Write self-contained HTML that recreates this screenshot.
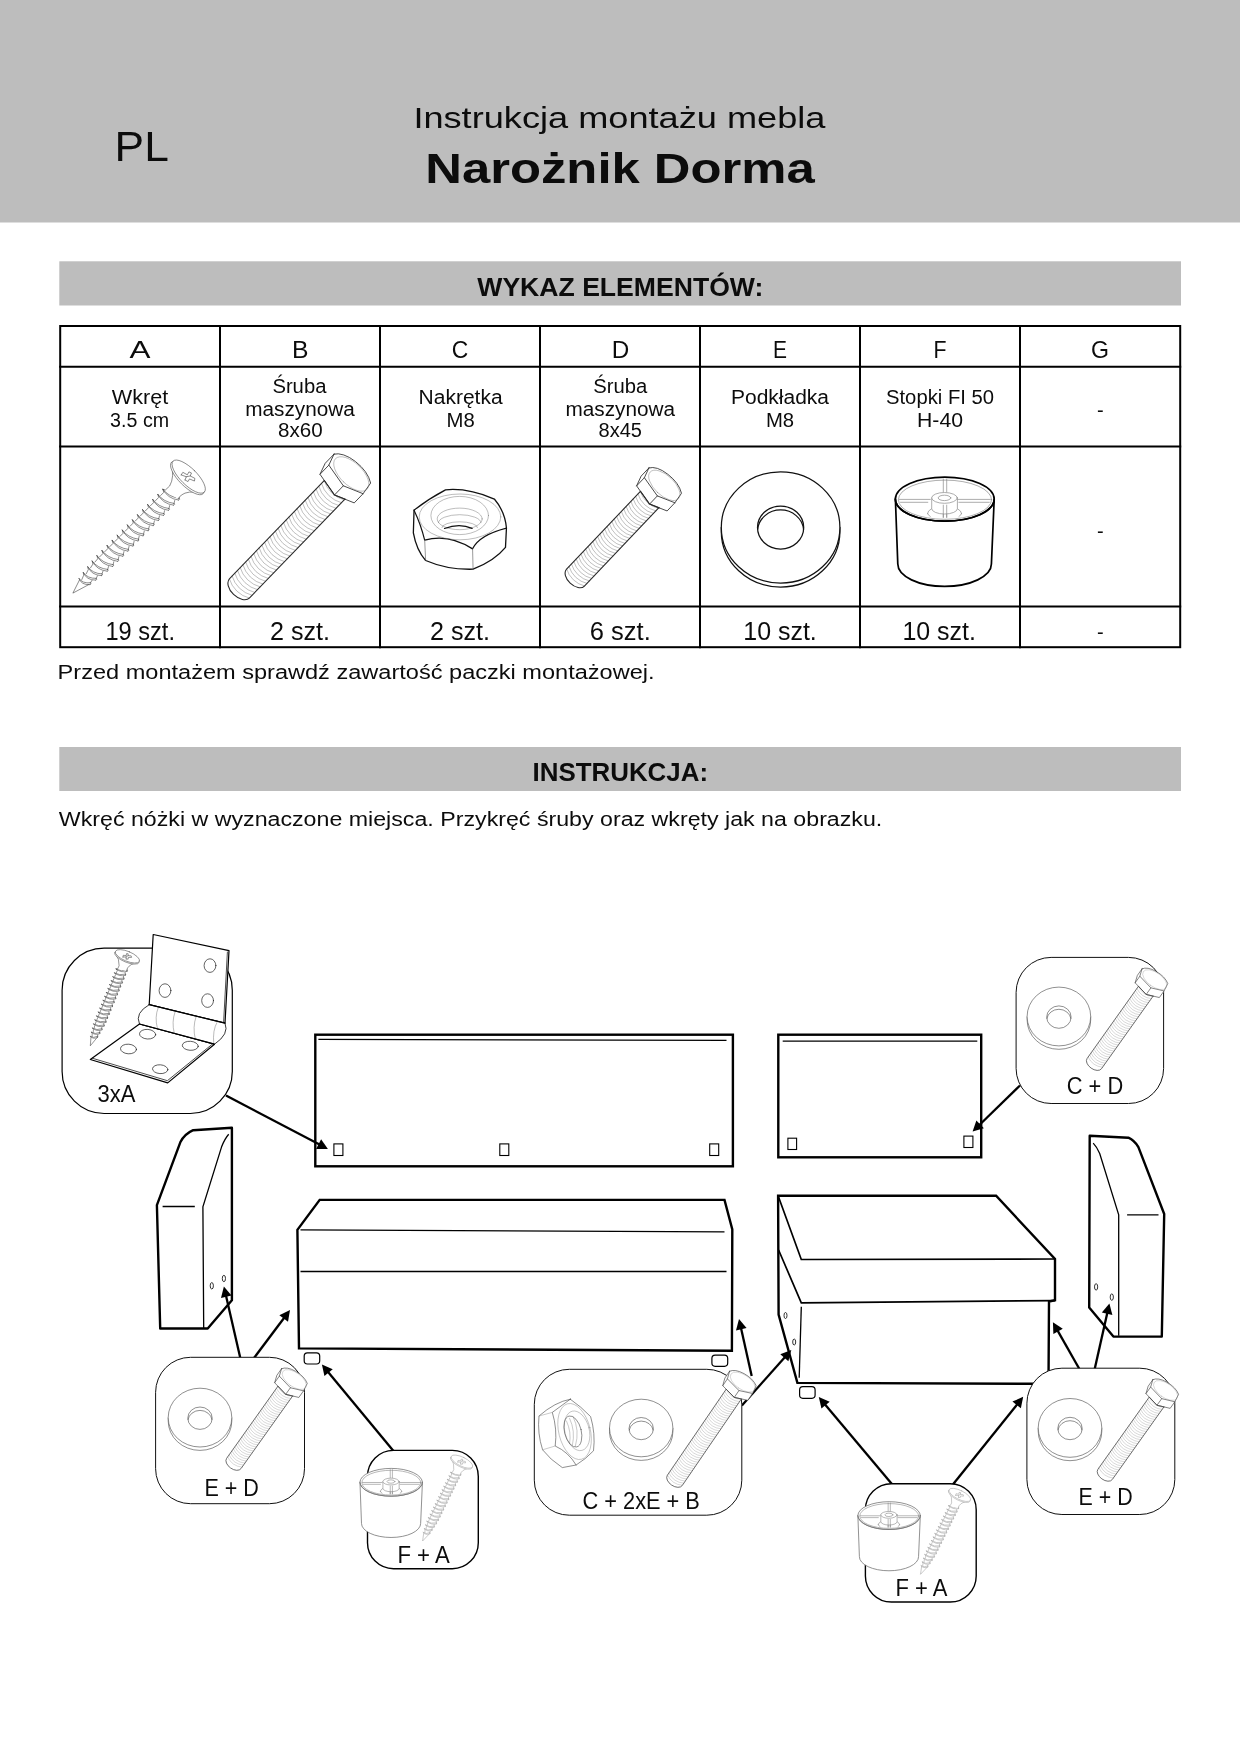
<!DOCTYPE html>
<html lang="pl"><head><meta charset="utf-8"><title>Instrukcja montażu mebla - Narożnik Dorma</title>
<style>
html,body{margin:0;padding:0;background:#fff;}
body{width:1240px;height:1754px;overflow:hidden;font-family:"Liberation Sans",sans-serif;}
svg{display:block;will-change:transform;}
svg text{font-family:"Liberation Sans",sans-serif;fill:#0c0c0c;}
.b{font-weight:bold;}
.ln{fill:none;stroke:#000;stroke-linejoin:round;stroke-linecap:round;}
.th{fill:none;stroke:#333;stroke-width:0.6;stroke-linejoin:round;stroke-linecap:round;}
.wf{fill:#fff;stroke:#333;stroke-width:0.6;stroke-linejoin:round;stroke-linecap:round;}
</style></head><body>
<svg width="1240" height="1754" viewBox="0 0 1240 1754">
<!-- 00_base.svg -->
<rect x="0" y="0" width="1240" height="1754" fill="#fff"/>
<rect x="0" y="0" width="1240" height="222.5" fill="#bdbdbd"/>
<text x="114.6" y="161.3" font-size="42" textLength="54.2" lengthAdjust="spacingAndGlyphs">PL</text>
<text x="619.4" y="128.3" font-size="30" text-anchor="middle" textLength="412" lengthAdjust="spacingAndGlyphs">Instrukcja montażu mebla</text>
<text x="620" y="183" font-size="42" class="b" text-anchor="middle" textLength="389.5" lengthAdjust="spacingAndGlyphs">Narożnik Dorma</text>
<rect x="59.3" y="261.3" width="1121.7" height="44.2" fill="#bdbdbd"/>
<text x="620.3" y="295.7" font-size="25" class="b" text-anchor="middle" textLength="286" lengthAdjust="spacingAndGlyphs">WYKAZ ELEMENTÓW:</text>
<rect x="59.3" y="747" width="1121.7" height="44" fill="#bdbdbd"/>
<text x="620.3" y="780.8" font-size="25" class="b" text-anchor="middle" textLength="175.5" lengthAdjust="spacingAndGlyphs">INSTRUKCJA:</text>
<text x="57.6" y="678.7" font-size="20" textLength="597" lengthAdjust="spacingAndGlyphs">Przed montażem sprawdź zawartość paczki montażowej.</text>
<text x="58.8" y="825.8" font-size="20" textLength="823.5" lengthAdjust="spacingAndGlyphs">Wkręć nóżki w wyznaczone miejsca. Przykręć śruby oraz wkręty jak na obrazku.</text>

<!-- 10_table.svg -->
<g stroke="#000" stroke-width="2" fill="none" stroke-linecap="square">
<rect x="60.2" y="326" width="1120" height="321.2"/>
<path d="M60.2 366.8H1180.2M60.2 446.5H1180.2M60.2 606.5H1180.2"/>
<path d="M220 326V647.2M380 326V647.2M540 326V647.2M700 326V647.2M860 326V647.2M1020 326V647.2"/>
</g>
<g font-size="24.3" text-anchor="middle">
<text x="140" y="357.5" textLength="21" lengthAdjust="spacingAndGlyphs">A</text>
<text x="300.2" y="357.5" textLength="16.5" lengthAdjust="spacingAndGlyphs">B</text>
<text x="460" y="357.5" textLength="16.5" lengthAdjust="spacingAndGlyphs">C</text>
<text x="620.5" y="357.5" textLength="17.5" lengthAdjust="spacingAndGlyphs">D</text>
<text x="780" y="357.5" textLength="14" lengthAdjust="spacingAndGlyphs">E</text>
<text x="940" y="357.5" textLength="13" lengthAdjust="spacingAndGlyphs">F</text>
<text x="1100" y="357.5" textLength="18" lengthAdjust="spacingAndGlyphs">G</text>
</g>
<g font-size="20" text-anchor="middle">
<text x="140" y="403.8" textLength="56.5" lengthAdjust="spacingAndGlyphs">Wkręt</text>
<text x="139.6" y="427" textLength="59" lengthAdjust="spacingAndGlyphs">3.5 cm</text>
<text x="299.4" y="393" textLength="54" lengthAdjust="spacingAndGlyphs">Śruba</text>
<text x="300" y="415.7" textLength="109.5" lengthAdjust="spacingAndGlyphs">maszynowa</text>
<text x="300.3" y="437.4" textLength="44.6" lengthAdjust="spacingAndGlyphs">8x60</text>
<text x="460.6" y="403.8" textLength="84" lengthAdjust="spacingAndGlyphs">Nakrętka</text>
<text x="460.6" y="427" textLength="28.2" lengthAdjust="spacingAndGlyphs">M8</text>
<text x="620.3" y="393" textLength="54" lengthAdjust="spacingAndGlyphs">Śruba</text>
<text x="620.3" y="415.7" textLength="109.5" lengthAdjust="spacingAndGlyphs">maszynowa</text>
<text x="620.3" y="437.4" textLength="43.4" lengthAdjust="spacingAndGlyphs">8x45</text>
<text x="780" y="403.8" textLength="98" lengthAdjust="spacingAndGlyphs">Podkładka</text>
<text x="780" y="427" textLength="28.2" lengthAdjust="spacingAndGlyphs">M8</text>
<text x="940" y="403.8" textLength="108" lengthAdjust="spacingAndGlyphs">Stopki FI 50</text>
<text x="940" y="427" textLength="46" lengthAdjust="spacingAndGlyphs">H-40</text>
<text x="1100.4" y="416.5">-</text>
<text x="1100.4" y="537.5">-</text>
<text x="1100.4" y="638.5">-</text>
</g>
<g font-size="26" text-anchor="middle">
<text x="140.2" y="640" textLength="69.5" lengthAdjust="spacingAndGlyphs">19 szt.</text>
<text x="300" y="640" textLength="60" lengthAdjust="spacingAndGlyphs">2 szt.</text>
<text x="460" y="640" textLength="60" lengthAdjust="spacingAndGlyphs">2 szt.</text>
<text x="620.3" y="640" textLength="61" lengthAdjust="spacingAndGlyphs">6 szt.</text>
<text x="780" y="640" textLength="73.5" lengthAdjust="spacingAndGlyphs">10 szt.</text>
<text x="939.2" y="640" textLength="73.5" lengthAdjust="spacingAndGlyphs">10 szt.</text>
</g>

<!-- 20_icons.svg -->
<g transform="translate(72.9 593.1) rotate(-45.17) scale(0.9998)" fill="none" stroke="#3a3a3a" stroke-width="0.55" stroke-linejoin="round" stroke-linecap="round">
<path d="M0 0 L16 -4.95 L140 -6.6 L140 6.6 L16 4.95 Z" fill="#fff" stroke="none"/>
<path d="M14 -4.6 L0 0 L17 5.2"/>
<path d="M137.1 -9.4 Q133.7 0.5 140.5 9.4 M137.1 -9.4 Q135.7 0.2 142.1 8.5 M140.5 9.4 Q142.7 10.4 142.1 8.5 M142.1 8.5 L144.7 6.9 M137.1 -9.4 L135.5 -6.6 L131.1 -6.6 M129.9 -9.4 Q126.5 0.5 133.3 9.4 M129.9 -9.4 Q128.5 0.2 134.9 8.5 M133.3 9.4 Q135.5 10.4 134.9 8.5 M134.9 8.5 L137.5 6.9 M129.9 -9.4 L128.3 -6.6 L123.9 -6.6 M122.7 -9.4 Q119.3 0.5 126.1 9.4 M122.7 -9.4 Q121.3 0.2 127.7 8.5 M126.1 9.4 Q128.3 10.4 127.7 8.5 M127.7 8.5 L130.3 6.9 M122.7 -9.4 L121.1 -6.6 L116.7 -6.6 M115.5 -9.4 Q112.1 0.5 118.9 9.4 M115.5 -9.4 Q114.1 0.2 120.5 8.5 M118.9 9.4 Q121.1 10.4 120.5 8.5 M120.5 8.5 L123.1 6.9 M115.5 -9.4 L113.9 -6.6 L109.5 -6.6 M108.3 -9.4 Q104.9 0.5 111.7 9.4 M108.3 -9.4 Q106.9 0.2 113.3 8.5 M111.7 9.4 Q113.9 10.4 113.3 8.5 M113.3 8.5 L115.9 6.9 M108.3 -9.4 L106.7 -6.6 L102.3 -6.6 M101.1 -9.4 Q97.7 0.5 104.5 9.4 M101.1 -9.4 Q99.7 0.2 106.1 8.5 M104.5 9.4 Q106.7 10.4 106.1 8.5 M106.1 8.5 L108.7 6.9 M101.1 -9.4 L99.5 -6.6 L95.1 -6.6 M93.9 -9.4 Q90.5 0.5 97.3 9.4 M93.9 -9.4 Q92.5 0.2 98.9 8.5 M97.3 9.4 Q99.5 10.4 98.9 8.5 M98.9 8.5 L101.5 6.9 M93.9 -9.4 L92.3 -6.6 L87.9 -6.6 M86.7 -9.4 Q83.3 0.5 90.1 9.4 M86.7 -9.4 Q85.3 0.2 91.7 8.5 M90.1 9.4 Q92.3 10.4 91.7 8.5 M91.7 8.5 L94.3 6.9 M86.7 -9.4 L85.1 -6.6 L80.7 -6.6 M79.5 -9.4 Q76.1 0.5 82.9 9.4 M79.5 -9.4 Q78.1 0.2 84.5 8.5 M82.9 9.4 Q85.1 10.4 84.5 8.5 M84.5 8.5 L87.1 6.9 M79.5 -9.4 L77.9 -6.6 L73.5 -6.6 M72.3 -9.4 Q68.9 0.5 75.7 9.4 M72.3 -9.4 Q70.9 0.2 77.3 8.5 M75.7 9.4 Q77.9 10.4 77.3 8.5 M77.3 8.5 L79.9 6.9 M72.3 -9.4 L70.7 -6.6 L66.3 -6.6 M65.1 -9.4 Q61.7 0.5 68.5 9.4 M65.1 -9.4 Q63.7 0.2 70.1 8.5 M68.5 9.4 Q70.7 10.4 70.1 8.5 M70.1 8.5 L72.7 6.9 M65.1 -9.4 L63.5 -6.6 L59.1 -6.6 M57.9 -9.4 Q54.5 0.5 61.3 9.4 M57.9 -9.4 Q56.5 0.2 62.9 8.5 M61.3 9.4 Q63.5 10.4 62.9 8.5 M62.9 8.5 L65.5 6.9 M57.9 -9.4 L56.3 -6.6 L51.9 -6.6 M50.7 -9.4 Q47.3 0.5 54.1 9.4 M50.7 -9.4 Q49.3 0.2 55.7 8.5 M54.1 9.4 Q56.3 10.4 55.7 8.5 M55.7 8.5 L58.3 6.9 M50.7 -9.4 L49.1 -6.6 L44.7 -6.6 M43.5 -9.4 Q40.1 0.5 46.9 9.4 M43.5 -9.4 Q42.1 0.2 48.5 8.5 M46.9 9.4 Q49.1 10.4 48.5 8.5 M48.5 8.5 L51.1 6.9 M43.5 -9.4 L41.9 -6.6 L37.5 -6.26 M36.3 -8.92 Q32.9 0.5 39.7 8.92 M36.3 -8.92 Q34.9 0.2 41.3 8.02 M39.7 8.92 Q41.9 9.92 41.3 8.02 M41.3 8.02 L43.9 6.56 M36.3 -8.92 L34.7 -6.26 L30.3 -5.33 M29.1 -7.99 Q25.7 0.5 32.5 7.99 M29.1 -7.99 Q27.7 0.2 34.1 7.09 M32.5 7.99 Q34.7 8.99 34.1 7.09 M34.1 7.09 L36.7 5.91 M29.1 -7.99 L27.5 -5.61 L23.1 -4.21 M21.9 -7.06 Q18.5 0.5 25.3 7.06 M21.9 -7.06 Q20.5 0.2 26.9 6.16 M25.3 7.06 Q27.5 8.06 26.9 6.16 M26.9 6.16 L29.5 5.26 M21.9 -7.06 L20.3 -4.96 L15.9 -3.23 M14.7 -6.13 Q11.3 0.5 18.1 6.13 M14.7 -6.13 Q13.3 0.2 19.7 5.23 M18.1 6.13 Q20.3 7.13 19.7 5.23 M19.7 5.23 L22.3 4.6"/>
<path d="M161.9 -21.9 Q154 -9.5 144.2 -6.9 L138.4 -7.1 L140.8 8 L146 7.8 Q154 9 161.3 19.9 Z" fill="#fff" stroke="none"/>
<path d="M161.9 -21.9 Q154 -9.5 144.2 -6.9 L138.4 -7.1 L137.1 -9.4 M161.3 19.9 Q154 9 146 7.8 L140.8 8"/>
<ellipse cx="162.4" cy="0" rx="8.3" ry="22.3" fill="#fff"/>
<ellipse cx="164.3" cy="0" rx="8.3" ry="22" fill="#fff"/>
<path d="M160.2 -6.5 L162.5 -1.6 L159.3 -0.2 M160.2 -6.5 L163.2 -7.2 L164.6 -2.2 L167.8 -3.2 L168.8 -0.6 L165.8 0.6 L167.4 5.6 L165.2 7.2 L163.2 2.2 L160.3 3 L159.3 -0.2 M162.5 -1.6 L165.8 0.6"/>
</g>
<g transform="translate(341.04 483.15) rotate(134) scale(1.0000)" fill="none" stroke-linejoin="round" stroke-linecap="round">
<path d="M-3 13.9 L146.03 13.9 A8.7 13.9 0 0 0 146.03 -13.9 L-3 -13.9 Z" fill="#fff" stroke="none"/>
<path d="M6 13.9 A27.8 27.8 0 0 0 6 -13.9 M9.9 13.9 A27.8 27.8 0 0 0 9.9 -13.9 M13.8 13.9 A27.8 27.8 0 0 0 13.8 -13.9 M17.7 13.9 A27.8 27.8 0 0 0 17.7 -13.9 M21.6 13.9 A27.8 27.8 0 0 0 21.6 -13.9 M25.5 13.9 A27.8 27.8 0 0 0 25.5 -13.9 M29.4 13.9 A27.8 27.8 0 0 0 29.4 -13.9 M33.3 13.9 A27.8 27.8 0 0 0 33.3 -13.9 M37.2 13.9 A27.8 27.8 0 0 0 37.2 -13.9 M41.1 13.9 A27.8 27.8 0 0 0 41.1 -13.9 M45 13.9 A27.8 27.8 0 0 0 45 -13.9 M48.9 13.9 A27.8 27.8 0 0 0 48.9 -13.9 M52.8 13.9 A27.8 27.8 0 0 0 52.8 -13.9 M56.7 13.9 A27.8 27.8 0 0 0 56.7 -13.9 M60.6 13.9 A27.8 27.8 0 0 0 60.6 -13.9 M64.5 13.9 A27.8 27.8 0 0 0 64.5 -13.9 M68.4 13.9 A27.8 27.8 0 0 0 68.4 -13.9 M72.3 13.9 A27.8 27.8 0 0 0 72.3 -13.9 M76.2 13.9 A27.8 27.8 0 0 0 76.2 -13.9 M80.1 13.9 A27.8 27.8 0 0 0 80.1 -13.9 M84 13.9 A27.8 27.8 0 0 0 84 -13.9 M87.9 13.9 A27.8 27.8 0 0 0 87.9 -13.9 M91.8 13.9 A27.8 27.8 0 0 0 91.8 -13.9 M95.7 13.9 A27.8 27.8 0 0 0 95.7 -13.9 M99.6 13.9 A27.8 27.8 0 0 0 99.6 -13.9 M103.5 13.9 A27.8 27.8 0 0 0 103.5 -13.9 M107.4 13.9 A27.8 27.8 0 0 0 107.4 -13.9 M111.3 13.9 A27.8 27.8 0 0 0 111.3 -13.9 M115.2 13.9 A27.8 27.8 0 0 0 115.2 -13.9 M119.1 13.9 A27.8 27.8 0 0 0 119.1 -13.9 M123 13.9 A27.8 27.8 0 0 0 123 -13.9 M126.9 13.9 A27.8 27.8 0 0 0 126.9 -13.9 M130.8 13.9 A27.8 27.8 0 0 0 130.8 -13.9 M134.7 13.9 A27.8 27.8 0 0 0 134.7 -13.9 M138.6 13.9 A27.8 27.8 0 0 0 138.6 -13.9 M142.5 13.9 A27.8 27.8 0 0 0 142.5 -13.9 M146.4 13.9 A27.8 27.8 0 0 0 146.4 -13.9" stroke="#6a6a6a" stroke-width="0.4"/>
<path d="M-3 13.9 L146.03 13.9 A8.7 13.9 0 0 0 146.03 -13.9 L-3 -13.9" stroke="#2a2a2a" stroke-width="1.1"/>
<path d="M-16 25.2 L-3.26 25.2 L8.24 21.3 L13.05 -3.5 L5.04 -23.2 L-7.7 -23.2 L-20.64 -21.22 A13.6 26.6 0 0 0 -16 25.2 Z" fill="#fff" stroke="#2a2a2a" stroke-width="0.8"/>
<path d="M-16 25.2 L-4.5 21.3 L8.24 21.3 M-4.5 21.3 L0.31 -3.5 L13.05 -3.5 M0.31 -3.5 L-7.7 -23.2" stroke="#2a2a2a" stroke-width="0.8"/>
<ellipse cx="-13.7" cy="-1" rx="11.1" ry="22" stroke="#6a6a6a" stroke-width="0.4"/>
<path d="M9.68 13.86 L13.05 -3.5 L8.64 -14.34" stroke="#2a2a2a" stroke-width="1.1"/>
</g>
<g transform="translate(655.3 493.58) rotate(133.53) scale(0.8850)" fill="none" stroke-linejoin="round" stroke-linecap="round">
<path d="M-3 13.9 L130.96 13.9 A8.7 13.9 0 0 0 130.96 -13.9 L-3 -13.9 Z" fill="#fff" stroke="none"/>
<path d="M6 13.9 A27.8 27.8 0 0 0 6 -13.9 M9.9 13.9 A27.8 27.8 0 0 0 9.9 -13.9 M13.8 13.9 A27.8 27.8 0 0 0 13.8 -13.9 M17.7 13.9 A27.8 27.8 0 0 0 17.7 -13.9 M21.6 13.9 A27.8 27.8 0 0 0 21.6 -13.9 M25.5 13.9 A27.8 27.8 0 0 0 25.5 -13.9 M29.4 13.9 A27.8 27.8 0 0 0 29.4 -13.9 M33.3 13.9 A27.8 27.8 0 0 0 33.3 -13.9 M37.2 13.9 A27.8 27.8 0 0 0 37.2 -13.9 M41.1 13.9 A27.8 27.8 0 0 0 41.1 -13.9 M45 13.9 A27.8 27.8 0 0 0 45 -13.9 M48.9 13.9 A27.8 27.8 0 0 0 48.9 -13.9 M52.8 13.9 A27.8 27.8 0 0 0 52.8 -13.9 M56.7 13.9 A27.8 27.8 0 0 0 56.7 -13.9 M60.6 13.9 A27.8 27.8 0 0 0 60.6 -13.9 M64.5 13.9 A27.8 27.8 0 0 0 64.5 -13.9 M68.4 13.9 A27.8 27.8 0 0 0 68.4 -13.9 M72.3 13.9 A27.8 27.8 0 0 0 72.3 -13.9 M76.2 13.9 A27.8 27.8 0 0 0 76.2 -13.9 M80.1 13.9 A27.8 27.8 0 0 0 80.1 -13.9 M84 13.9 A27.8 27.8 0 0 0 84 -13.9 M87.9 13.9 A27.8 27.8 0 0 0 87.9 -13.9 M91.8 13.9 A27.8 27.8 0 0 0 91.8 -13.9 M95.7 13.9 A27.8 27.8 0 0 0 95.7 -13.9 M99.6 13.9 A27.8 27.8 0 0 0 99.6 -13.9 M103.5 13.9 A27.8 27.8 0 0 0 103.5 -13.9 M107.4 13.9 A27.8 27.8 0 0 0 107.4 -13.9 M111.3 13.9 A27.8 27.8 0 0 0 111.3 -13.9 M115.2 13.9 A27.8 27.8 0 0 0 115.2 -13.9 M119.1 13.9 A27.8 27.8 0 0 0 119.1 -13.9 M123 13.9 A27.8 27.8 0 0 0 123 -13.9 M126.9 13.9 A27.8 27.8 0 0 0 126.9 -13.9 M130.8 13.9 A27.8 27.8 0 0 0 130.8 -13.9" stroke="#6a6a6a" stroke-width="0.45"/>
<path d="M-3 13.9 L130.96 13.9 A8.7 13.9 0 0 0 130.96 -13.9 L-3 -13.9" stroke="#2a2a2a" stroke-width="1.24"/>
<path d="M-16 25.2 L-3.26 25.2 L8.24 21.3 L13.05 -3.5 L5.04 -23.2 L-7.7 -23.2 L-20.64 -21.22 A13.6 26.6 0 0 0 -16 25.2 Z" fill="#fff" stroke="#2a2a2a" stroke-width="0.9"/>
<path d="M-16 25.2 L-4.5 21.3 L8.24 21.3 M-4.5 21.3 L0.31 -3.5 L13.05 -3.5 M0.31 -3.5 L-7.7 -23.2" stroke="#2a2a2a" stroke-width="0.9"/>
<ellipse cx="-13.7" cy="-1" rx="11.1" ry="22" stroke="#6a6a6a" stroke-width="0.45"/>
<path d="M9.68 13.86 L13.05 -3.5 L8.64 -14.34" stroke="#2a2a2a" stroke-width="1.24"/>
</g>
<g fill="none" stroke-linejoin="round" stroke-linecap="round">
<path d="M414.03 510.16 Q429 498.5 445.49 489.84 Q467.7 487.6 494.36 499.03 Q505 511.6 506.45 528.06 L505.48 547.42 Q494.4 561 473.07 569.19 Q447.4 569.9 425.65 560.48 Q416.5 550.3 413.35 532.9 Z" fill="#fff" stroke="#111" stroke-width="1.3"/>
<path d="M506.45 528.06 Q478.9 535.1 472.58 548.87 Q448.4 533.4 424.68 540.16 Q420.8 524.2 414.03 510.16" stroke="#111" stroke-width="1.2"/>
<path d="M424.68 540.16 L425.65 560.48 M472.58 548.87 L473.07 569.19" stroke="#555" stroke-width="0.6"/>
<g stroke="#7a7a7a" stroke-width="0.5">
<ellipse cx="460" cy="516.9" rx="40.8" ry="22.9"/>
<ellipse cx="459.7" cy="515.5" rx="28.8" ry="19.1"/>
<ellipse cx="459.7" cy="518.9" rx="22.5" ry="10.8"/>
<path d="M438.4 522.7 A21.3 8 0 0 1 481 522.7 M441.8 527.6 A17.9 5.8 0 0 1 477.6 527.6"/>
</g>
<path d="M444.5 528.5 Q459.5 522.6 472.1 528.4" stroke="#111" stroke-width="1.2"/>
</g>
<g fill="#fff" stroke="#111" stroke-width="1.25" stroke-linejoin="round">
<path d="M721.3 527.4 L721.3 531.4 A59.3 55.6 0 0 0 839.9 531.4 L839.9 527.4 Z"/>
<ellipse cx="780.6" cy="527.4" rx="59.3" ry="55.6"/>
<ellipse cx="780.6" cy="527.5" rx="23.1" ry="21.5"/>
<path d="M757.6 529.5 A23.1 21.5 0 0 1 803.6 529.5" fill="none"/>
</g>
<g transform="translate(944.8 499.1) scale(1.0000)" fill="none" stroke-linejoin="round" stroke-linecap="round">
<path d="M-49.4 0 L-47 65 A46.8 22.3 0 0 0 46.6 65 L49.4 0 Z" fill="#fff" stroke="#000" stroke-width="1.7"/>
<ellipse cx="0" cy="0" rx="49.4" ry="22" fill="#fff" stroke="#000" stroke-width="1.7"/>
<g stroke="#8a8a8a" stroke-width="0.7">
<ellipse cx="0.2" cy="0.6" rx="46.6" ry="19.6"/>
<path d="M-45.5 0.3 L-14.5 0.3 M-44.3 3.2 L-17 3.2 M12.6 0.3 L45.6 0.3 M14 3.2 L44.5 3.2 M-1.5 -20 L-1.5 -7 M1.9 -20 L1.9 -7 M-1.5 5.6 L-1.5 18.2 M1.9 5.6 L1.9 18.2"/>
<path d="M-13.1 9.5 Q-17.5 12 -17.3 14.4 M12.6 9.5 Q16.8 12 16.8 14.4" />
<path d="M-17.3 14.4 A17.2 6 0 0 0 -14.5 17.3 M16.8 14.4 A17.2 6 0 0 1 14.2 17.3"/>
<path d="M-13.1 -1.2 L-13.1 9.5 A12.8 5.4 0 0 0 12.6 9.5 L12.6 -1.2" fill="#fff"/>
<ellipse cx="-0.3" cy="-1.2" rx="12.8" ry="5.4" fill="#fff"/>
<ellipse cx="-0.3" cy="-1.2" rx="6.3" ry="2.7"/>
<path d="M-1.5 6 L-1.5 18.2 M1.9 6 L1.9 18.2" />
</g>
<path d="M-49.4 0 A49.4 22 0 0 0 49.4 0" stroke="#000" stroke-width="1.7"/>
</g>
<!-- 30_diagram.svg -->
<g fill="#fff" stroke="#000" stroke-linejoin="miter" stroke-linecap="butt">
<rect x="315.3" y="1034.7" width="417.6" height="131.6" stroke-width="2.4"/>
<path d="M318.4 1039.4 L726.5 1040.4" stroke-width="1.3"/>
<rect x="333.9" y="1143.9" width="9" height="11.6" stroke-width="1.1"/>
<rect x="499.8" y="1143.9" width="9" height="11.6" stroke-width="1.1"/>
<rect x="709.7" y="1143.9" width="9" height="11.6" stroke-width="1.1"/>
<rect x="778.3" y="1034.7" width="202.9" height="122.6" stroke-width="2.4"/>
<path d="M782.7 1041.2 L977.3 1041.2" stroke-width="1.3"/>
<rect x="787.9" y="1138.2" width="8.7" height="11.3" stroke-width="1.1"/>
<rect x="963.9" y="1136.1" width="9" height="11.4" stroke-width="1.1"/>
<path d="M156.9 1205.2 L160.2 1328.5 L207.7 1328.5 L231.9 1300.3 L231.9 1127.7 L193.2 1130.2 Q184.5 1134 180.3 1142.3 Z" stroke-width="2.4" stroke-linejoin="round"/>
<path d="M203.7 1328 L202.9 1206.8 L221.5 1147.1 Q224.5 1139 228.7 1134.2 M162.6 1206.5 L194.8 1206.5" fill="none" stroke-width="1.3"/>
<ellipse cx="211.8" cy="1285.8" rx="1.6" ry="3.2" stroke-width="0.8"/><ellipse cx="223.9" cy="1278.5" rx="1.6" ry="3.2" stroke-width="0.8"/>
<path d="M1089.7 1135.8 L1128.4 1137.7 Q1134.5 1140.5 1138.4 1147.1 L1164.2 1214 L1161.8 1336.6 L1113.4 1336.6 L1089.2 1307.6 Z" stroke-width="2.4" stroke-linejoin="round"/>
<path d="M1093.2 1143.1 Q1097 1147 1099.7 1153.5 L1118.7 1214.8 L1118.7 1335.8 M1127.1 1214.8 L1158.5 1214.8" fill="none" stroke-width="1.3"/>
<ellipse cx="1096.1" cy="1286.9" rx="1.6" ry="3.2" stroke-width="0.8"/><ellipse cx="1111.8" cy="1297.1" rx="1.6" ry="3.2" stroke-width="0.8"/>
<path d="M319.7 1199.9 L724.5 1199.9 L732.3 1229.4 L731.9 1350.7 L299 1348.4 L297.4 1229.9 Z" stroke-width="2.4"/>
<path d="M300.5 1229.9 L724.5 1231.9 M300.5 1271.5 L726.5 1271.5" fill="none" stroke-width="1.3"/>
<rect x="304.2" y="1352.8" width="15.5" height="11.2" rx="3.2" stroke-width="1.2"/>
<rect x="711.9" y="1355.2" width="15.8" height="11.1" rx="3.2" stroke-width="1.2"/>
<path d="M778.1 1195.8 L996.1 1195.8 L1055 1259 L1055 1300.3 L1049 1301.5 L1048.5 1383.8 L797.4 1382.9 L778.6 1314.5 Z" stroke-width="2.4"/>
<path d="M778.1 1195.8 L801.3 1259.5 L1055 1259 M778.6 1250 L801.3 1302.9 L1055 1300.6" fill="none" stroke-width="1.7"/>
<path d="M801.3 1306.8 L799.2 1377.7" fill="none" stroke-width="1.3"/>
<ellipse cx="785.5" cy="1315.5" rx="1.5" ry="3" stroke-width="0.8"/><ellipse cx="794.2" cy="1342" rx="1.5" ry="3" stroke-width="0.8"/>
<rect x="799.6" y="1386.7" width="15.5" height="11.6" rx="3.2" stroke-width="1.2"/>
</g>
<path d="M226 1095.6 L320.46 1145.1" stroke="#000" stroke-width="2.3" fill="none"/><path d="M327.9 1149 L316.09 1148.91 L321.11 1139.34 Z" fill="#000" stroke="none"/>
<path d="M1020 1085.5 L978.62 1125.74" stroke="#000" stroke-width="2.3" fill="none"/><path d="M972.6 1131.6 L976.36 1120.41 L983.89 1128.15 Z" fill="#000" stroke="none"/>
<path d="M240.3 1358 L225.78 1294.79" stroke="#000" stroke-width="2.3" fill="none"/><path d="M223.9 1286.6 L231.51 1295.62 L220.99 1298.04 Z" fill="#000" stroke="none"/>
<path d="M254 1358 L284.96 1316.72" stroke="#000" stroke-width="2.3" fill="none"/><path d="M290 1310 L288.02 1321.64 L279.38 1315.16 Z" fill="#000" stroke="none"/>
<path d="M393.5 1451 L327.26 1370.97" stroke="#000" stroke-width="2.3" fill="none"/><path d="M321.9 1364.5 L332.76 1369.15 L324.44 1376.03 Z" fill="#000" stroke="none"/>
<path d="M751.7 1376 L740.83 1327.2" stroke="#000" stroke-width="2.3" fill="none"/><path d="M739 1319 L746.55 1328.07 L736.01 1330.42 Z" fill="#000" stroke="none"/>
<path d="M741.9 1405.5 L785.72 1356.18" stroke="#000" stroke-width="2.3" fill="none"/><path d="M791.3 1349.9 L788.36 1361.34 L780.29 1354.16 Z" fill="#000" stroke="none"/>
<path d="M892.3 1484.5 L824.21 1403.53" stroke="#000" stroke-width="2.3" fill="none"/><path d="M818.8 1397.1 L829.69 1401.66 L821.43 1408.61 Z" fill="#000" stroke="none"/>
<path d="M952.9 1484.5 L1017.95 1403.35" stroke="#000" stroke-width="2.3" fill="none"/><path d="M1023.2 1396.8 L1020.85 1408.37 L1012.42 1401.62 Z" fill="#000" stroke="none"/>
<path d="M1079.4 1369 L1057.05 1329.61" stroke="#000" stroke-width="2.3" fill="none"/><path d="M1052.9 1322.3 L1062.78 1328.77 L1053.39 1334.1 Z" fill="#000" stroke="none"/>
<path d="M1094.7 1369 L1107.56 1311.7" stroke="#000" stroke-width="2.3" fill="none"/><path d="M1109.4 1303.5 L1112.37 1314.93 L1101.83 1312.56 Z" fill="#000" stroke="none"/>
<!-- 40_callouts.svg -->
<rect x="62.1" y="948.2" width="170.2" height="165.3" rx="42" ry="42" fill="#fff" stroke="#000" stroke-width="1.2"/>
<g transform="translate(90.3 1045.8) rotate(-67.48) scale(0.5897)" fill="none" stroke="#444" stroke-width="0.85" stroke-linejoin="round" stroke-linecap="round">
<path d="M0 0 L16 -4.95 L140 -6.6 L140 6.6 L16 4.95 Z" fill="#fff" stroke="none"/>
<path d="M14 -4.6 L0 0 L17 5.2"/>
<path d="M137.1 -9.4 Q133.7 0.5 140.5 9.4 M137.1 -9.4 Q135.7 0.2 142.1 8.5 M140.5 9.4 Q142.7 10.4 142.1 8.5 M142.1 8.5 L144.7 6.9 M137.1 -9.4 L135.5 -6.6 L131.1 -6.6 M129.9 -9.4 Q126.5 0.5 133.3 9.4 M129.9 -9.4 Q128.5 0.2 134.9 8.5 M133.3 9.4 Q135.5 10.4 134.9 8.5 M134.9 8.5 L137.5 6.9 M129.9 -9.4 L128.3 -6.6 L123.9 -6.6 M122.7 -9.4 Q119.3 0.5 126.1 9.4 M122.7 -9.4 Q121.3 0.2 127.7 8.5 M126.1 9.4 Q128.3 10.4 127.7 8.5 M127.7 8.5 L130.3 6.9 M122.7 -9.4 L121.1 -6.6 L116.7 -6.6 M115.5 -9.4 Q112.1 0.5 118.9 9.4 M115.5 -9.4 Q114.1 0.2 120.5 8.5 M118.9 9.4 Q121.1 10.4 120.5 8.5 M120.5 8.5 L123.1 6.9 M115.5 -9.4 L113.9 -6.6 L109.5 -6.6 M108.3 -9.4 Q104.9 0.5 111.7 9.4 M108.3 -9.4 Q106.9 0.2 113.3 8.5 M111.7 9.4 Q113.9 10.4 113.3 8.5 M113.3 8.5 L115.9 6.9 M108.3 -9.4 L106.7 -6.6 L102.3 -6.6 M101.1 -9.4 Q97.7 0.5 104.5 9.4 M101.1 -9.4 Q99.7 0.2 106.1 8.5 M104.5 9.4 Q106.7 10.4 106.1 8.5 M106.1 8.5 L108.7 6.9 M101.1 -9.4 L99.5 -6.6 L95.1 -6.6 M93.9 -9.4 Q90.5 0.5 97.3 9.4 M93.9 -9.4 Q92.5 0.2 98.9 8.5 M97.3 9.4 Q99.5 10.4 98.9 8.5 M98.9 8.5 L101.5 6.9 M93.9 -9.4 L92.3 -6.6 L87.9 -6.6 M86.7 -9.4 Q83.3 0.5 90.1 9.4 M86.7 -9.4 Q85.3 0.2 91.7 8.5 M90.1 9.4 Q92.3 10.4 91.7 8.5 M91.7 8.5 L94.3 6.9 M86.7 -9.4 L85.1 -6.6 L80.7 -6.6 M79.5 -9.4 Q76.1 0.5 82.9 9.4 M79.5 -9.4 Q78.1 0.2 84.5 8.5 M82.9 9.4 Q85.1 10.4 84.5 8.5 M84.5 8.5 L87.1 6.9 M79.5 -9.4 L77.9 -6.6 L73.5 -6.6 M72.3 -9.4 Q68.9 0.5 75.7 9.4 M72.3 -9.4 Q70.9 0.2 77.3 8.5 M75.7 9.4 Q77.9 10.4 77.3 8.5 M77.3 8.5 L79.9 6.9 M72.3 -9.4 L70.7 -6.6 L66.3 -6.6 M65.1 -9.4 Q61.7 0.5 68.5 9.4 M65.1 -9.4 Q63.7 0.2 70.1 8.5 M68.5 9.4 Q70.7 10.4 70.1 8.5 M70.1 8.5 L72.7 6.9 M65.1 -9.4 L63.5 -6.6 L59.1 -6.6 M57.9 -9.4 Q54.5 0.5 61.3 9.4 M57.9 -9.4 Q56.5 0.2 62.9 8.5 M61.3 9.4 Q63.5 10.4 62.9 8.5 M62.9 8.5 L65.5 6.9 M57.9 -9.4 L56.3 -6.6 L51.9 -6.6 M50.7 -9.4 Q47.3 0.5 54.1 9.4 M50.7 -9.4 Q49.3 0.2 55.7 8.5 M54.1 9.4 Q56.3 10.4 55.7 8.5 M55.7 8.5 L58.3 6.9 M50.7 -9.4 L49.1 -6.6 L44.7 -6.6 M43.5 -9.4 Q40.1 0.5 46.9 9.4 M43.5 -9.4 Q42.1 0.2 48.5 8.5 M46.9 9.4 Q49.1 10.4 48.5 8.5 M48.5 8.5 L51.1 6.9 M43.5 -9.4 L41.9 -6.6 L37.5 -6.26 M36.3 -8.92 Q32.9 0.5 39.7 8.92 M36.3 -8.92 Q34.9 0.2 41.3 8.02 M39.7 8.92 Q41.9 9.92 41.3 8.02 M41.3 8.02 L43.9 6.56 M36.3 -8.92 L34.7 -6.26 L30.3 -5.33 M29.1 -7.99 Q25.7 0.5 32.5 7.99 M29.1 -7.99 Q27.7 0.2 34.1 7.09 M32.5 7.99 Q34.7 8.99 34.1 7.09 M34.1 7.09 L36.7 5.91 M29.1 -7.99 L27.5 -5.61 L23.1 -4.21 M21.9 -7.06 Q18.5 0.5 25.3 7.06 M21.9 -7.06 Q20.5 0.2 26.9 6.16 M25.3 7.06 Q27.5 8.06 26.9 6.16 M26.9 6.16 L29.5 5.26 M21.9 -7.06 L20.3 -4.96 L15.9 -3.23 M14.7 -6.13 Q11.3 0.5 18.1 6.13 M14.7 -6.13 Q13.3 0.2 19.7 5.23 M18.1 6.13 Q20.3 7.13 19.7 5.23 M19.7 5.23 L22.3 4.6"/>
<path d="M161.9 -21.9 Q154 -9.5 144.2 -6.9 L138.4 -7.1 L140.8 8 L146 7.8 Q154 9 161.3 19.9 Z" fill="#fff" stroke="none"/>
<path d="M161.9 -21.9 Q154 -9.5 144.2 -6.9 L138.4 -7.1 L137.1 -9.4 M161.3 19.9 Q154 9 146 7.8 L140.8 8"/>
<ellipse cx="162.4" cy="0" rx="8.3" ry="22.3" fill="#fff"/>
<ellipse cx="164.3" cy="0" rx="8.3" ry="22" fill="#fff"/>
<path d="M160.2 -6.5 L162.5 -1.6 L159.3 -0.2 M160.2 -6.5 L163.2 -7.2 L164.6 -2.2 L167.8 -3.2 L168.8 -0.6 L165.8 0.6 L167.4 5.6 L165.2 7.2 L163.2 2.2 L160.3 3 L159.3 -0.2 M162.5 -1.6 L165.8 0.6"/>
</g>
<g fill="#fff" stroke="#000" stroke-width="1.2" stroke-linejoin="round" stroke-linecap="round">
<path d="M153.2 934.5 L229 950.6 L225 1023.2 L149.2 1004.7 Z"/>
<path d="M227.4 952 L223.6 1022.4" fill="none" stroke-width="0.7"/>
<ellipse cx="210" cy="965.6" rx="5.9" ry="6.8" stroke-width="0.7" stroke="#222"/>
<ellipse cx="165" cy="990.6" rx="5.9" ry="6.8" stroke-width="0.7" stroke="#222"/>
<ellipse cx="207.6" cy="1000.6" rx="5.9" ry="6.8" stroke-width="0.7" stroke="#222"/>
<path d="M139.5 1024 L214.5 1044.2 L167.7 1082.9 L90.3 1059.5 Z"/>
<path d="M92.6 1058.3 L167.4 1080.7 L212 1044.4" fill="none" stroke-width="0.7"/>
<ellipse cx="147.6" cy="1034.2" rx="8.1" ry="4.8" stroke-width="0.7" stroke="#222" transform="rotate(4 147.6 1034.2)"/>
<ellipse cx="128.5" cy="1049" rx="8" ry="4.8" stroke-width="0.7" stroke="#222" transform="rotate(4 128.5 1049)"/>
<ellipse cx="190.3" cy="1045.8" rx="8" ry="4.5" stroke-width="0.7" stroke="#222" transform="rotate(4 190.3 1045.8)"/>
<ellipse cx="160.2" cy="1069.2" rx="7.7" ry="4.4" stroke-width="0.7" stroke="#222" transform="rotate(4 160.2 1069.2)"/>
<path d="M149.2 1004.7 L225 1023.2 Q229.5 1034 214.5 1044.2 L139.5 1024 Q134.5 1013 149.2 1004.7 Z" stroke-width="0.9" stroke="#222"/>
<path d="M158.1 1008 Q154.5 1017 157.3 1028 M175 1012 Q171.5 1022 174.2 1033 M196 1017 Q192.5 1027 195.2 1038.6 M217 1022.5 Q212.5 1030 213.7 1043.6" fill="none" stroke-width="0.45" stroke="#666"/>
<path d="M149.2 1004.7 L225 1023.2 M139.5 1024 L214.5 1044.2" fill="none" stroke-width="1.2"/>
</g>
<text x="97.6" y="1101.5" font-size="23.6" textLength="37.9" lengthAdjust="spacingAndGlyphs">3xA</text>
<rect x="1016.1" y="957.4" width="147.5" height="146.1" rx="35" ry="35" fill="#fff" stroke="#111" stroke-width="1"/>
<g fill="#fff" stroke="#444" stroke-width="0.6" stroke-linejoin="round">
<path d="M1027.1 1016.5 L1027.1 1019.9 A31.8 29.4 0 0 0 1090.7 1019.9 L1090.7 1016.5 Z"/>
<ellipse cx="1058.9" cy="1016.5" rx="31.8" ry="29.4"/>
<ellipse cx="1058.9" cy="1017.1" rx="12.2" ry="11.2"/>
<path d="M1046.84 1018.8 A12.2 11.2 0 0 1 1070.96 1018.8" fill="none"/>
</g>
<g transform="translate(1149.2 986.4) rotate(125.42) scale(0.6350)" fill="none" stroke-linejoin="round" stroke-linecap="round">
<path d="M-3 13.9 L149.18 13.9 A8.7 13.9 0 0 0 149.18 -13.9 L-3 -13.9 Z" fill="#fff" stroke="none"/>
<path d="M6 13.9 A27.8 27.8 0 0 0 6 -13.9 M9.9 13.9 A27.8 27.8 0 0 0 9.9 -13.9 M13.8 13.9 A27.8 27.8 0 0 0 13.8 -13.9 M17.7 13.9 A27.8 27.8 0 0 0 17.7 -13.9 M21.6 13.9 A27.8 27.8 0 0 0 21.6 -13.9 M25.5 13.9 A27.8 27.8 0 0 0 25.5 -13.9 M29.4 13.9 A27.8 27.8 0 0 0 29.4 -13.9 M33.3 13.9 A27.8 27.8 0 0 0 33.3 -13.9 M37.2 13.9 A27.8 27.8 0 0 0 37.2 -13.9 M41.1 13.9 A27.8 27.8 0 0 0 41.1 -13.9 M45 13.9 A27.8 27.8 0 0 0 45 -13.9 M48.9 13.9 A27.8 27.8 0 0 0 48.9 -13.9 M52.8 13.9 A27.8 27.8 0 0 0 52.8 -13.9 M56.7 13.9 A27.8 27.8 0 0 0 56.7 -13.9 M60.6 13.9 A27.8 27.8 0 0 0 60.6 -13.9 M64.5 13.9 A27.8 27.8 0 0 0 64.5 -13.9 M68.4 13.9 A27.8 27.8 0 0 0 68.4 -13.9 M72.3 13.9 A27.8 27.8 0 0 0 72.3 -13.9 M76.2 13.9 A27.8 27.8 0 0 0 76.2 -13.9 M80.1 13.9 A27.8 27.8 0 0 0 80.1 -13.9 M84 13.9 A27.8 27.8 0 0 0 84 -13.9 M87.9 13.9 A27.8 27.8 0 0 0 87.9 -13.9 M91.8 13.9 A27.8 27.8 0 0 0 91.8 -13.9 M95.7 13.9 A27.8 27.8 0 0 0 95.7 -13.9 M99.6 13.9 A27.8 27.8 0 0 0 99.6 -13.9 M103.5 13.9 A27.8 27.8 0 0 0 103.5 -13.9 M107.4 13.9 A27.8 27.8 0 0 0 107.4 -13.9 M111.3 13.9 A27.8 27.8 0 0 0 111.3 -13.9 M115.2 13.9 A27.8 27.8 0 0 0 115.2 -13.9 M119.1 13.9 A27.8 27.8 0 0 0 119.1 -13.9 M123 13.9 A27.8 27.8 0 0 0 123 -13.9 M126.9 13.9 A27.8 27.8 0 0 0 126.9 -13.9 M130.8 13.9 A27.8 27.8 0 0 0 130.8 -13.9 M134.7 13.9 A27.8 27.8 0 0 0 134.7 -13.9 M138.6 13.9 A27.8 27.8 0 0 0 138.6 -13.9 M142.5 13.9 A27.8 27.8 0 0 0 142.5 -13.9 M146.4 13.9 A27.8 27.8 0 0 0 146.4 -13.9" stroke="#888" stroke-width="0.47"/>
<path d="M-3 13.9 L149.18 13.9 A8.7 13.9 0 0 0 149.18 -13.9 L-3 -13.9" stroke="#444" stroke-width="1.1"/>
<path d="M-16 25.2 L-3.26 25.2 L8.24 21.3 L13.05 -3.5 L5.04 -23.2 L-7.7 -23.2 L-20.64 -21.22 A13.6 26.6 0 0 0 -16 25.2 Z" fill="#fff" stroke="#444" stroke-width="0.94"/>
<path d="M-16 25.2 L-4.5 21.3 L8.24 21.3 M-4.5 21.3 L0.31 -3.5 L13.05 -3.5 M0.31 -3.5 L-7.7 -23.2" stroke="#444" stroke-width="0.94"/>
<ellipse cx="-13.7" cy="-1" rx="11.1" ry="22" stroke="#888" stroke-width="0.47"/>
<path d="M9.68 13.86 L13.05 -3.5 L8.64 -14.34" stroke="#444" stroke-width="1.1"/>
</g>
<text x="1066.8" y="1093.5" font-size="24.6" textLength="56.4" lengthAdjust="spacingAndGlyphs">C + D</text>
<rect x="155.6" y="1357.3" width="148.9" height="146.4" rx="35" ry="35" fill="#fff" stroke="#111" stroke-width="1"/>
<g fill="#fff" stroke="#444" stroke-width="0.6" stroke-linejoin="round">
<path d="M168.2 1417.6 L168.2 1421 A31.8 29.4 0 0 0 231.8 1421 L231.8 1417.6 Z"/>
<ellipse cx="200" cy="1417.6" rx="31.8" ry="29.4"/>
<ellipse cx="200" cy="1418.2" rx="12.2" ry="11.2"/>
<path d="M187.94 1419.9 A12.2 11.2 0 0 1 212.06 1419.9" fill="none"/>
</g>
<g transform="translate(288.7 1386.3) rotate(125.42) scale(0.6350)" fill="none" stroke-linejoin="round" stroke-linecap="round">
<path d="M-3 13.9 L149.18 13.9 A8.7 13.9 0 0 0 149.18 -13.9 L-3 -13.9 Z" fill="#fff" stroke="none"/>
<path d="M6 13.9 A27.8 27.8 0 0 0 6 -13.9 M9.9 13.9 A27.8 27.8 0 0 0 9.9 -13.9 M13.8 13.9 A27.8 27.8 0 0 0 13.8 -13.9 M17.7 13.9 A27.8 27.8 0 0 0 17.7 -13.9 M21.6 13.9 A27.8 27.8 0 0 0 21.6 -13.9 M25.5 13.9 A27.8 27.8 0 0 0 25.5 -13.9 M29.4 13.9 A27.8 27.8 0 0 0 29.4 -13.9 M33.3 13.9 A27.8 27.8 0 0 0 33.3 -13.9 M37.2 13.9 A27.8 27.8 0 0 0 37.2 -13.9 M41.1 13.9 A27.8 27.8 0 0 0 41.1 -13.9 M45 13.9 A27.8 27.8 0 0 0 45 -13.9 M48.9 13.9 A27.8 27.8 0 0 0 48.9 -13.9 M52.8 13.9 A27.8 27.8 0 0 0 52.8 -13.9 M56.7 13.9 A27.8 27.8 0 0 0 56.7 -13.9 M60.6 13.9 A27.8 27.8 0 0 0 60.6 -13.9 M64.5 13.9 A27.8 27.8 0 0 0 64.5 -13.9 M68.4 13.9 A27.8 27.8 0 0 0 68.4 -13.9 M72.3 13.9 A27.8 27.8 0 0 0 72.3 -13.9 M76.2 13.9 A27.8 27.8 0 0 0 76.2 -13.9 M80.1 13.9 A27.8 27.8 0 0 0 80.1 -13.9 M84 13.9 A27.8 27.8 0 0 0 84 -13.9 M87.9 13.9 A27.8 27.8 0 0 0 87.9 -13.9 M91.8 13.9 A27.8 27.8 0 0 0 91.8 -13.9 M95.7 13.9 A27.8 27.8 0 0 0 95.7 -13.9 M99.6 13.9 A27.8 27.8 0 0 0 99.6 -13.9 M103.5 13.9 A27.8 27.8 0 0 0 103.5 -13.9 M107.4 13.9 A27.8 27.8 0 0 0 107.4 -13.9 M111.3 13.9 A27.8 27.8 0 0 0 111.3 -13.9 M115.2 13.9 A27.8 27.8 0 0 0 115.2 -13.9 M119.1 13.9 A27.8 27.8 0 0 0 119.1 -13.9 M123 13.9 A27.8 27.8 0 0 0 123 -13.9 M126.9 13.9 A27.8 27.8 0 0 0 126.9 -13.9 M130.8 13.9 A27.8 27.8 0 0 0 130.8 -13.9 M134.7 13.9 A27.8 27.8 0 0 0 134.7 -13.9 M138.6 13.9 A27.8 27.8 0 0 0 138.6 -13.9 M142.5 13.9 A27.8 27.8 0 0 0 142.5 -13.9 M146.4 13.9 A27.8 27.8 0 0 0 146.4 -13.9" stroke="#888" stroke-width="0.47"/>
<path d="M-3 13.9 L149.18 13.9 A8.7 13.9 0 0 0 149.18 -13.9 L-3 -13.9" stroke="#444" stroke-width="1.1"/>
<path d="M-16 25.2 L-3.26 25.2 L8.24 21.3 L13.05 -3.5 L5.04 -23.2 L-7.7 -23.2 L-20.64 -21.22 A13.6 26.6 0 0 0 -16 25.2 Z" fill="#fff" stroke="#444" stroke-width="0.94"/>
<path d="M-16 25.2 L-4.5 21.3 L8.24 21.3 M-4.5 21.3 L0.31 -3.5 L13.05 -3.5 M0.31 -3.5 L-7.7 -23.2" stroke="#444" stroke-width="0.94"/>
<ellipse cx="-13.7" cy="-1" rx="11.1" ry="22" stroke="#888" stroke-width="0.47"/>
<path d="M9.68 13.86 L13.05 -3.5 L8.64 -14.34" stroke="#444" stroke-width="1.1"/>
</g>
<text x="204.5" y="1495.6" font-size="24.6" textLength="54.4" lengthAdjust="spacingAndGlyphs">E + D</text>
<rect x="1026.9" y="1368.2" width="147.9" height="146.3" rx="35" ry="35" fill="#fff" stroke="#111" stroke-width="1"/>
<g fill="#fff" stroke="#444" stroke-width="0.6" stroke-linejoin="round">
<path d="M1038.2 1427.9 L1038.2 1431.3 A31.8 29.4 0 0 0 1101.8 1431.3 L1101.8 1427.9 Z"/>
<ellipse cx="1070" cy="1427.9" rx="31.8" ry="29.4"/>
<ellipse cx="1070" cy="1428.5" rx="12.2" ry="11.2"/>
<path d="M1057.94 1430.2 A12.2 11.2 0 0 1 1082.06 1430.2" fill="none"/>
</g>
<g transform="translate(1160 1397.2) rotate(125.42) scale(0.6350)" fill="none" stroke-linejoin="round" stroke-linecap="round">
<path d="M-3 13.9 L149.18 13.9 A8.7 13.9 0 0 0 149.18 -13.9 L-3 -13.9 Z" fill="#fff" stroke="none"/>
<path d="M6 13.9 A27.8 27.8 0 0 0 6 -13.9 M9.9 13.9 A27.8 27.8 0 0 0 9.9 -13.9 M13.8 13.9 A27.8 27.8 0 0 0 13.8 -13.9 M17.7 13.9 A27.8 27.8 0 0 0 17.7 -13.9 M21.6 13.9 A27.8 27.8 0 0 0 21.6 -13.9 M25.5 13.9 A27.8 27.8 0 0 0 25.5 -13.9 M29.4 13.9 A27.8 27.8 0 0 0 29.4 -13.9 M33.3 13.9 A27.8 27.8 0 0 0 33.3 -13.9 M37.2 13.9 A27.8 27.8 0 0 0 37.2 -13.9 M41.1 13.9 A27.8 27.8 0 0 0 41.1 -13.9 M45 13.9 A27.8 27.8 0 0 0 45 -13.9 M48.9 13.9 A27.8 27.8 0 0 0 48.9 -13.9 M52.8 13.9 A27.8 27.8 0 0 0 52.8 -13.9 M56.7 13.9 A27.8 27.8 0 0 0 56.7 -13.9 M60.6 13.9 A27.8 27.8 0 0 0 60.6 -13.9 M64.5 13.9 A27.8 27.8 0 0 0 64.5 -13.9 M68.4 13.9 A27.8 27.8 0 0 0 68.4 -13.9 M72.3 13.9 A27.8 27.8 0 0 0 72.3 -13.9 M76.2 13.9 A27.8 27.8 0 0 0 76.2 -13.9 M80.1 13.9 A27.8 27.8 0 0 0 80.1 -13.9 M84 13.9 A27.8 27.8 0 0 0 84 -13.9 M87.9 13.9 A27.8 27.8 0 0 0 87.9 -13.9 M91.8 13.9 A27.8 27.8 0 0 0 91.8 -13.9 M95.7 13.9 A27.8 27.8 0 0 0 95.7 -13.9 M99.6 13.9 A27.8 27.8 0 0 0 99.6 -13.9 M103.5 13.9 A27.8 27.8 0 0 0 103.5 -13.9 M107.4 13.9 A27.8 27.8 0 0 0 107.4 -13.9 M111.3 13.9 A27.8 27.8 0 0 0 111.3 -13.9 M115.2 13.9 A27.8 27.8 0 0 0 115.2 -13.9 M119.1 13.9 A27.8 27.8 0 0 0 119.1 -13.9 M123 13.9 A27.8 27.8 0 0 0 123 -13.9 M126.9 13.9 A27.8 27.8 0 0 0 126.9 -13.9 M130.8 13.9 A27.8 27.8 0 0 0 130.8 -13.9 M134.7 13.9 A27.8 27.8 0 0 0 134.7 -13.9 M138.6 13.9 A27.8 27.8 0 0 0 138.6 -13.9 M142.5 13.9 A27.8 27.8 0 0 0 142.5 -13.9 M146.4 13.9 A27.8 27.8 0 0 0 146.4 -13.9" stroke="#888" stroke-width="0.47"/>
<path d="M-3 13.9 L149.18 13.9 A8.7 13.9 0 0 0 149.18 -13.9 L-3 -13.9" stroke="#444" stroke-width="1.1"/>
<path d="M-16 25.2 L-3.26 25.2 L8.24 21.3 L13.05 -3.5 L5.04 -23.2 L-7.7 -23.2 L-20.64 -21.22 A13.6 26.6 0 0 0 -16 25.2 Z" fill="#fff" stroke="#444" stroke-width="0.94"/>
<path d="M-16 25.2 L-4.5 21.3 L8.24 21.3 M-4.5 21.3 L0.31 -3.5 L13.05 -3.5 M0.31 -3.5 L-7.7 -23.2" stroke="#444" stroke-width="0.94"/>
<ellipse cx="-13.7" cy="-1" rx="11.1" ry="22" stroke="#888" stroke-width="0.47"/>
<path d="M9.68 13.86 L13.05 -3.5 L8.64 -14.34" stroke="#444" stroke-width="1.1"/>
</g>
<text x="1078.5" y="1504.8" font-size="24.6" textLength="54.1" lengthAdjust="spacingAndGlyphs">E + D</text>
<rect x="534.3" y="1369.3" width="207.5" height="145.9" rx="35" ry="35" fill="#fff" stroke="#111" stroke-width="1"/>
<g fill="none" stroke="#444" stroke-width="0.6" stroke-linejoin="round" stroke-linecap="round">
<path d="M570.3 1399.2 Q555 1402 539 1416 Q537.2 1433.4 542.6 1449.8 Q550 1459.5 562.3 1467.6 L576.1 1465 Q586 1459 593.5 1450.8 Q595.6 1433.4 590.6 1416.6 Q581 1406.5 570.3 1399.2 Z" fill="#fff"/>
<path d="M570.3 1399.2 L552.3 1412.4 Q557.4 1429 555.2 1446 Q568.5 1452 576.1 1465"/>
<path d="M552.3 1412.4 L539 1416 M555.2 1446 L542.6 1449.8" stroke="#888" stroke-width="0.45"/>
<g stroke="#888" stroke-width="0.45">
<ellipse cx="574.6" cy="1431.5" rx="15.8" ry="28.6" transform="rotate(-14 574.6 1431.5)"/>
<ellipse cx="577.1" cy="1430.8" rx="12.2" ry="20.2" transform="rotate(-14 577.1 1430.8)"/>
<path d="M573 1416.6 Q580 1430 575.4 1446 M569.6 1418.4 Q575.6 1431 572.4 1445.2 M566.5 1421 Q571.6 1432 569.6 1443.6"/>
</g>
<ellipse cx="572.9" cy="1431.5" rx="8.4" ry="15.9" transform="rotate(-14 572.9 1431.5)" stroke="#555"/>
</g>
<g fill="#fff" stroke="#444" stroke-width="0.6" stroke-linejoin="round">
<path d="M609.5 1428 L609.5 1431.6 A31.7 28.8 0 0 0 672.9 1431.6 L672.9 1428 Z"/>
<ellipse cx="641.2" cy="1428" rx="31.7" ry="28.8"/>
<ellipse cx="641.2" cy="1428.6" rx="12.2" ry="11.1"/>
<path d="M629.16 1430.4 A12.2 11.1 0 0 1 653.24 1430.4" fill="none"/>
</g>
<g transform="translate(737.2 1389.1) rotate(124.35) scale(0.6500)" fill="none" stroke-linejoin="round" stroke-linecap="round">
<path d="M-3 13.9 L170.13 13.9 A8.7 13.9 0 0 0 170.13 -13.9 L-3 -13.9 Z" fill="#fff" stroke="none"/>
<path d="M6 13.9 A27.8 27.8 0 0 0 6 -13.9 M9.9 13.9 A27.8 27.8 0 0 0 9.9 -13.9 M13.8 13.9 A27.8 27.8 0 0 0 13.8 -13.9 M17.7 13.9 A27.8 27.8 0 0 0 17.7 -13.9 M21.6 13.9 A27.8 27.8 0 0 0 21.6 -13.9 M25.5 13.9 A27.8 27.8 0 0 0 25.5 -13.9 M29.4 13.9 A27.8 27.8 0 0 0 29.4 -13.9 M33.3 13.9 A27.8 27.8 0 0 0 33.3 -13.9 M37.2 13.9 A27.8 27.8 0 0 0 37.2 -13.9 M41.1 13.9 A27.8 27.8 0 0 0 41.1 -13.9 M45 13.9 A27.8 27.8 0 0 0 45 -13.9 M48.9 13.9 A27.8 27.8 0 0 0 48.9 -13.9 M52.8 13.9 A27.8 27.8 0 0 0 52.8 -13.9 M56.7 13.9 A27.8 27.8 0 0 0 56.7 -13.9 M60.6 13.9 A27.8 27.8 0 0 0 60.6 -13.9 M64.5 13.9 A27.8 27.8 0 0 0 64.5 -13.9 M68.4 13.9 A27.8 27.8 0 0 0 68.4 -13.9 M72.3 13.9 A27.8 27.8 0 0 0 72.3 -13.9 M76.2 13.9 A27.8 27.8 0 0 0 76.2 -13.9 M80.1 13.9 A27.8 27.8 0 0 0 80.1 -13.9 M84 13.9 A27.8 27.8 0 0 0 84 -13.9 M87.9 13.9 A27.8 27.8 0 0 0 87.9 -13.9 M91.8 13.9 A27.8 27.8 0 0 0 91.8 -13.9 M95.7 13.9 A27.8 27.8 0 0 0 95.7 -13.9 M99.6 13.9 A27.8 27.8 0 0 0 99.6 -13.9 M103.5 13.9 A27.8 27.8 0 0 0 103.5 -13.9 M107.4 13.9 A27.8 27.8 0 0 0 107.4 -13.9 M111.3 13.9 A27.8 27.8 0 0 0 111.3 -13.9 M115.2 13.9 A27.8 27.8 0 0 0 115.2 -13.9 M119.1 13.9 A27.8 27.8 0 0 0 119.1 -13.9 M123 13.9 A27.8 27.8 0 0 0 123 -13.9 M126.9 13.9 A27.8 27.8 0 0 0 126.9 -13.9 M130.8 13.9 A27.8 27.8 0 0 0 130.8 -13.9 M134.7 13.9 A27.8 27.8 0 0 0 134.7 -13.9 M138.6 13.9 A27.8 27.8 0 0 0 138.6 -13.9 M142.5 13.9 A27.8 27.8 0 0 0 142.5 -13.9 M146.4 13.9 A27.8 27.8 0 0 0 146.4 -13.9 M150.3 13.9 A27.8 27.8 0 0 0 150.3 -13.9 M154.2 13.9 A27.8 27.8 0 0 0 154.2 -13.9 M158.1 13.9 A27.8 27.8 0 0 0 158.1 -13.9 M162 13.9 A27.8 27.8 0 0 0 162 -13.9 M165.9 13.9 A27.8 27.8 0 0 0 165.9 -13.9 M169.8 13.9 A27.8 27.8 0 0 0 169.8 -13.9" stroke="#888" stroke-width="0.46"/>
<path d="M-3 13.9 L170.13 13.9 A8.7 13.9 0 0 0 170.13 -13.9 L-3 -13.9" stroke="#444" stroke-width="1.08"/>
<path d="M-16 25.2 L-3.26 25.2 L8.24 21.3 L13.05 -3.5 L5.04 -23.2 L-7.7 -23.2 L-20.64 -21.22 A13.6 26.6 0 0 0 -16 25.2 Z" fill="#fff" stroke="#444" stroke-width="0.92"/>
<path d="M-16 25.2 L-4.5 21.3 L8.24 21.3 M-4.5 21.3 L0.31 -3.5 L13.05 -3.5 M0.31 -3.5 L-7.7 -23.2" stroke="#444" stroke-width="0.92"/>
<ellipse cx="-13.7" cy="-1" rx="11.1" ry="22" stroke="#888" stroke-width="0.46"/>
<path d="M9.68 13.86 L13.05 -3.5 L8.64 -14.34" stroke="#444" stroke-width="1.08"/>
</g>
<text x="582.5" y="1509.4" font-size="24.6" textLength="117.4" lengthAdjust="spacingAndGlyphs">C + 2xE + B</text>
<rect x="367.5" y="1450.4" width="110.8" height="118.3" rx="26" ry="26" fill="#fff" stroke="#000" stroke-width="1.4"/>
<g transform="translate(391.2 1482.3) scale(0.6320)" fill="none" stroke-linejoin="round" stroke-linecap="round">
<path d="M-49.4 0 L-47 65 A46.8 22.3 0 0 0 46.6 65 L49.4 0 Z" fill="#fff" stroke="#777" stroke-width="1.27"/>
<ellipse cx="0" cy="0" rx="49.4" ry="22" fill="#fff" stroke="#777" stroke-width="1.27"/>
<g stroke="#888" stroke-width="0.95">
<ellipse cx="0.2" cy="0.6" rx="46.6" ry="19.6"/>
<path d="M-45.5 0.3 L-14.5 0.3 M-44.3 3.2 L-17 3.2 M12.6 0.3 L45.6 0.3 M14 3.2 L44.5 3.2 M-1.5 -20 L-1.5 -7 M1.9 -20 L1.9 -7 M-1.5 5.6 L-1.5 18.2 M1.9 5.6 L1.9 18.2"/>
<path d="M-13.1 9.5 Q-17.5 12 -17.3 14.4 M12.6 9.5 Q16.8 12 16.8 14.4" />
<path d="M-17.3 14.4 A17.2 6 0 0 0 -14.5 17.3 M16.8 14.4 A17.2 6 0 0 1 14.2 17.3"/>
<path d="M-13.1 -1.2 L-13.1 9.5 A12.8 5.4 0 0 0 12.6 9.5 L12.6 -1.2" fill="#fff"/>
<ellipse cx="-0.3" cy="-1.2" rx="12.8" ry="5.4" fill="#fff"/>
<ellipse cx="-0.3" cy="-1.2" rx="6.3" ry="2.7"/>
<path d="M-1.5 6 L-1.5 18.2 M1.9 6 L1.9 18.2" />
</g>
<path d="M-49.4 0 A49.4 22 0 0 0 49.4 0" stroke="#777" stroke-width="1.27"/>
</g>
<g transform="translate(422.6 1541) rotate(-63.67) scale(0.5392)" fill="none" stroke="#a8a8a8" stroke-width="1.02" stroke-linejoin="round" stroke-linecap="round">
<path d="M0 0 L16 -4.95 L140 -6.6 L140 6.6 L16 4.95 Z" fill="#fff" stroke="none"/>
<path d="M14 -4.6 L0 0 L17 5.2"/>
<path d="M137.1 -9.4 Q133.7 0.5 140.5 9.4 M137.1 -9.4 Q135.7 0.2 142.1 8.5 M140.5 9.4 Q142.7 10.4 142.1 8.5 M142.1 8.5 L144.7 6.9 M137.1 -9.4 L135.5 -6.6 L131.1 -6.6 M129.9 -9.4 Q126.5 0.5 133.3 9.4 M129.9 -9.4 Q128.5 0.2 134.9 8.5 M133.3 9.4 Q135.5 10.4 134.9 8.5 M134.9 8.5 L137.5 6.9 M129.9 -9.4 L128.3 -6.6 L123.9 -6.6 M122.7 -9.4 Q119.3 0.5 126.1 9.4 M122.7 -9.4 Q121.3 0.2 127.7 8.5 M126.1 9.4 Q128.3 10.4 127.7 8.5 M127.7 8.5 L130.3 6.9 M122.7 -9.4 L121.1 -6.6 L116.7 -6.6 M115.5 -9.4 Q112.1 0.5 118.9 9.4 M115.5 -9.4 Q114.1 0.2 120.5 8.5 M118.9 9.4 Q121.1 10.4 120.5 8.5 M120.5 8.5 L123.1 6.9 M115.5 -9.4 L113.9 -6.6 L109.5 -6.6 M108.3 -9.4 Q104.9 0.5 111.7 9.4 M108.3 -9.4 Q106.9 0.2 113.3 8.5 M111.7 9.4 Q113.9 10.4 113.3 8.5 M113.3 8.5 L115.9 6.9 M108.3 -9.4 L106.7 -6.6 L102.3 -6.6 M101.1 -9.4 Q97.7 0.5 104.5 9.4 M101.1 -9.4 Q99.7 0.2 106.1 8.5 M104.5 9.4 Q106.7 10.4 106.1 8.5 M106.1 8.5 L108.7 6.9 M101.1 -9.4 L99.5 -6.6 L95.1 -6.6 M93.9 -9.4 Q90.5 0.5 97.3 9.4 M93.9 -9.4 Q92.5 0.2 98.9 8.5 M97.3 9.4 Q99.5 10.4 98.9 8.5 M98.9 8.5 L101.5 6.9 M93.9 -9.4 L92.3 -6.6 L87.9 -6.6 M86.7 -9.4 Q83.3 0.5 90.1 9.4 M86.7 -9.4 Q85.3 0.2 91.7 8.5 M90.1 9.4 Q92.3 10.4 91.7 8.5 M91.7 8.5 L94.3 6.9 M86.7 -9.4 L85.1 -6.6 L80.7 -6.6 M79.5 -9.4 Q76.1 0.5 82.9 9.4 M79.5 -9.4 Q78.1 0.2 84.5 8.5 M82.9 9.4 Q85.1 10.4 84.5 8.5 M84.5 8.5 L87.1 6.9 M79.5 -9.4 L77.9 -6.6 L73.5 -6.6 M72.3 -9.4 Q68.9 0.5 75.7 9.4 M72.3 -9.4 Q70.9 0.2 77.3 8.5 M75.7 9.4 Q77.9 10.4 77.3 8.5 M77.3 8.5 L79.9 6.9 M72.3 -9.4 L70.7 -6.6 L66.3 -6.6 M65.1 -9.4 Q61.7 0.5 68.5 9.4 M65.1 -9.4 Q63.7 0.2 70.1 8.5 M68.5 9.4 Q70.7 10.4 70.1 8.5 M70.1 8.5 L72.7 6.9 M65.1 -9.4 L63.5 -6.6 L59.1 -6.6 M57.9 -9.4 Q54.5 0.5 61.3 9.4 M57.9 -9.4 Q56.5 0.2 62.9 8.5 M61.3 9.4 Q63.5 10.4 62.9 8.5 M62.9 8.5 L65.5 6.9 M57.9 -9.4 L56.3 -6.6 L51.9 -6.6 M50.7 -9.4 Q47.3 0.5 54.1 9.4 M50.7 -9.4 Q49.3 0.2 55.7 8.5 M54.1 9.4 Q56.3 10.4 55.7 8.5 M55.7 8.5 L58.3 6.9 M50.7 -9.4 L49.1 -6.6 L44.7 -6.6 M43.5 -9.4 Q40.1 0.5 46.9 9.4 M43.5 -9.4 Q42.1 0.2 48.5 8.5 M46.9 9.4 Q49.1 10.4 48.5 8.5 M48.5 8.5 L51.1 6.9 M43.5 -9.4 L41.9 -6.6 L37.5 -6.26 M36.3 -8.92 Q32.9 0.5 39.7 8.92 M36.3 -8.92 Q34.9 0.2 41.3 8.02 M39.7 8.92 Q41.9 9.92 41.3 8.02 M41.3 8.02 L43.9 6.56 M36.3 -8.92 L34.7 -6.26 L30.3 -5.33 M29.1 -7.99 Q25.7 0.5 32.5 7.99 M29.1 -7.99 Q27.7 0.2 34.1 7.09 M32.5 7.99 Q34.7 8.99 34.1 7.09 M34.1 7.09 L36.7 5.91 M29.1 -7.99 L27.5 -5.61 L23.1 -4.21 M21.9 -7.06 Q18.5 0.5 25.3 7.06 M21.9 -7.06 Q20.5 0.2 26.9 6.16 M25.3 7.06 Q27.5 8.06 26.9 6.16 M26.9 6.16 L29.5 5.26 M21.9 -7.06 L20.3 -4.96 L15.9 -3.23 M14.7 -6.13 Q11.3 0.5 18.1 6.13 M14.7 -6.13 Q13.3 0.2 19.7 5.23 M18.1 6.13 Q20.3 7.13 19.7 5.23 M19.7 5.23 L22.3 4.6"/>
<path d="M161.9 -21.9 Q154 -9.5 144.2 -6.9 L138.4 -7.1 L140.8 8 L146 7.8 Q154 9 161.3 19.9 Z" fill="#fff" stroke="none"/>
<path d="M161.9 -21.9 Q154 -9.5 144.2 -6.9 L138.4 -7.1 L137.1 -9.4 M161.3 19.9 Q154 9 146 7.8 L140.8 8"/>
<ellipse cx="162.4" cy="0" rx="8.3" ry="22.3" fill="#fff"/>
<ellipse cx="164.3" cy="0" rx="8.3" ry="22" fill="#fff"/>
<path d="M160.2 -6.5 L162.5 -1.6 L159.3 -0.2 M160.2 -6.5 L163.2 -7.2 L164.6 -2.2 L167.8 -3.2 L168.8 -0.6 L165.8 0.6 L167.4 5.6 L165.2 7.2 L163.2 2.2 L160.3 3 L159.3 -0.2 M162.5 -1.6 L165.8 0.6"/>
</g>
<text x="397.4" y="1562.6" font-size="24.6" textLength="52.3" lengthAdjust="spacingAndGlyphs">F + A</text>
<rect x="865.4" y="1483.7" width="110.8" height="118.3" rx="26" ry="26" fill="#fff" stroke="#000" stroke-width="1.4"/>
<g transform="translate(889.1 1515.6) scale(0.6320)" fill="none" stroke-linejoin="round" stroke-linecap="round">
<path d="M-49.4 0 L-47 65 A46.8 22.3 0 0 0 46.6 65 L49.4 0 Z" fill="#fff" stroke="#777" stroke-width="1.27"/>
<ellipse cx="0" cy="0" rx="49.4" ry="22" fill="#fff" stroke="#777" stroke-width="1.27"/>
<g stroke="#888" stroke-width="0.95">
<ellipse cx="0.2" cy="0.6" rx="46.6" ry="19.6"/>
<path d="M-45.5 0.3 L-14.5 0.3 M-44.3 3.2 L-17 3.2 M12.6 0.3 L45.6 0.3 M14 3.2 L44.5 3.2 M-1.5 -20 L-1.5 -7 M1.9 -20 L1.9 -7 M-1.5 5.6 L-1.5 18.2 M1.9 5.6 L1.9 18.2"/>
<path d="M-13.1 9.5 Q-17.5 12 -17.3 14.4 M12.6 9.5 Q16.8 12 16.8 14.4" />
<path d="M-17.3 14.4 A17.2 6 0 0 0 -14.5 17.3 M16.8 14.4 A17.2 6 0 0 1 14.2 17.3"/>
<path d="M-13.1 -1.2 L-13.1 9.5 A12.8 5.4 0 0 0 12.6 9.5 L12.6 -1.2" fill="#fff"/>
<ellipse cx="-0.3" cy="-1.2" rx="12.8" ry="5.4" fill="#fff"/>
<ellipse cx="-0.3" cy="-1.2" rx="6.3" ry="2.7"/>
<path d="M-1.5 6 L-1.5 18.2 M1.9 6 L1.9 18.2" />
</g>
<path d="M-49.4 0 A49.4 22 0 0 0 49.4 0" stroke="#777" stroke-width="1.27"/>
</g>
<g transform="translate(920.5 1574.3) rotate(-63.67) scale(0.5392)" fill="none" stroke="#a8a8a8" stroke-width="1.02" stroke-linejoin="round" stroke-linecap="round">
<path d="M0 0 L16 -4.95 L140 -6.6 L140 6.6 L16 4.95 Z" fill="#fff" stroke="none"/>
<path d="M14 -4.6 L0 0 L17 5.2"/>
<path d="M137.1 -9.4 Q133.7 0.5 140.5 9.4 M137.1 -9.4 Q135.7 0.2 142.1 8.5 M140.5 9.4 Q142.7 10.4 142.1 8.5 M142.1 8.5 L144.7 6.9 M137.1 -9.4 L135.5 -6.6 L131.1 -6.6 M129.9 -9.4 Q126.5 0.5 133.3 9.4 M129.9 -9.4 Q128.5 0.2 134.9 8.5 M133.3 9.4 Q135.5 10.4 134.9 8.5 M134.9 8.5 L137.5 6.9 M129.9 -9.4 L128.3 -6.6 L123.9 -6.6 M122.7 -9.4 Q119.3 0.5 126.1 9.4 M122.7 -9.4 Q121.3 0.2 127.7 8.5 M126.1 9.4 Q128.3 10.4 127.7 8.5 M127.7 8.5 L130.3 6.9 M122.7 -9.4 L121.1 -6.6 L116.7 -6.6 M115.5 -9.4 Q112.1 0.5 118.9 9.4 M115.5 -9.4 Q114.1 0.2 120.5 8.5 M118.9 9.4 Q121.1 10.4 120.5 8.5 M120.5 8.5 L123.1 6.9 M115.5 -9.4 L113.9 -6.6 L109.5 -6.6 M108.3 -9.4 Q104.9 0.5 111.7 9.4 M108.3 -9.4 Q106.9 0.2 113.3 8.5 M111.7 9.4 Q113.9 10.4 113.3 8.5 M113.3 8.5 L115.9 6.9 M108.3 -9.4 L106.7 -6.6 L102.3 -6.6 M101.1 -9.4 Q97.7 0.5 104.5 9.4 M101.1 -9.4 Q99.7 0.2 106.1 8.5 M104.5 9.4 Q106.7 10.4 106.1 8.5 M106.1 8.5 L108.7 6.9 M101.1 -9.4 L99.5 -6.6 L95.1 -6.6 M93.9 -9.4 Q90.5 0.5 97.3 9.4 M93.9 -9.4 Q92.5 0.2 98.9 8.5 M97.3 9.4 Q99.5 10.4 98.9 8.5 M98.9 8.5 L101.5 6.9 M93.9 -9.4 L92.3 -6.6 L87.9 -6.6 M86.7 -9.4 Q83.3 0.5 90.1 9.4 M86.7 -9.4 Q85.3 0.2 91.7 8.5 M90.1 9.4 Q92.3 10.4 91.7 8.5 M91.7 8.5 L94.3 6.9 M86.7 -9.4 L85.1 -6.6 L80.7 -6.6 M79.5 -9.4 Q76.1 0.5 82.9 9.4 M79.5 -9.4 Q78.1 0.2 84.5 8.5 M82.9 9.4 Q85.1 10.4 84.5 8.5 M84.5 8.5 L87.1 6.9 M79.5 -9.4 L77.9 -6.6 L73.5 -6.6 M72.3 -9.4 Q68.9 0.5 75.7 9.4 M72.3 -9.4 Q70.9 0.2 77.3 8.5 M75.7 9.4 Q77.9 10.4 77.3 8.5 M77.3 8.5 L79.9 6.9 M72.3 -9.4 L70.7 -6.6 L66.3 -6.6 M65.1 -9.4 Q61.7 0.5 68.5 9.4 M65.1 -9.4 Q63.7 0.2 70.1 8.5 M68.5 9.4 Q70.7 10.4 70.1 8.5 M70.1 8.5 L72.7 6.9 M65.1 -9.4 L63.5 -6.6 L59.1 -6.6 M57.9 -9.4 Q54.5 0.5 61.3 9.4 M57.9 -9.4 Q56.5 0.2 62.9 8.5 M61.3 9.4 Q63.5 10.4 62.9 8.5 M62.9 8.5 L65.5 6.9 M57.9 -9.4 L56.3 -6.6 L51.9 -6.6 M50.7 -9.4 Q47.3 0.5 54.1 9.4 M50.7 -9.4 Q49.3 0.2 55.7 8.5 M54.1 9.4 Q56.3 10.4 55.7 8.5 M55.7 8.5 L58.3 6.9 M50.7 -9.4 L49.1 -6.6 L44.7 -6.6 M43.5 -9.4 Q40.1 0.5 46.9 9.4 M43.5 -9.4 Q42.1 0.2 48.5 8.5 M46.9 9.4 Q49.1 10.4 48.5 8.5 M48.5 8.5 L51.1 6.9 M43.5 -9.4 L41.9 -6.6 L37.5 -6.26 M36.3 -8.92 Q32.9 0.5 39.7 8.92 M36.3 -8.92 Q34.9 0.2 41.3 8.02 M39.7 8.92 Q41.9 9.92 41.3 8.02 M41.3 8.02 L43.9 6.56 M36.3 -8.92 L34.7 -6.26 L30.3 -5.33 M29.1 -7.99 Q25.7 0.5 32.5 7.99 M29.1 -7.99 Q27.7 0.2 34.1 7.09 M32.5 7.99 Q34.7 8.99 34.1 7.09 M34.1 7.09 L36.7 5.91 M29.1 -7.99 L27.5 -5.61 L23.1 -4.21 M21.9 -7.06 Q18.5 0.5 25.3 7.06 M21.9 -7.06 Q20.5 0.2 26.9 6.16 M25.3 7.06 Q27.5 8.06 26.9 6.16 M26.9 6.16 L29.5 5.26 M21.9 -7.06 L20.3 -4.96 L15.9 -3.23 M14.7 -6.13 Q11.3 0.5 18.1 6.13 M14.7 -6.13 Q13.3 0.2 19.7 5.23 M18.1 6.13 Q20.3 7.13 19.7 5.23 M19.7 5.23 L22.3 4.6"/>
<path d="M161.9 -21.9 Q154 -9.5 144.2 -6.9 L138.4 -7.1 L140.8 8 L146 7.8 Q154 9 161.3 19.9 Z" fill="#fff" stroke="none"/>
<path d="M161.9 -21.9 Q154 -9.5 144.2 -6.9 L138.4 -7.1 L137.1 -9.4 M161.3 19.9 Q154 9 146 7.8 L140.8 8"/>
<ellipse cx="162.4" cy="0" rx="8.3" ry="22.3" fill="#fff"/>
<ellipse cx="164.3" cy="0" rx="8.3" ry="22" fill="#fff"/>
<path d="M160.2 -6.5 L162.5 -1.6 L159.3 -0.2 M160.2 -6.5 L163.2 -7.2 L164.6 -2.2 L167.8 -3.2 L168.8 -0.6 L165.8 0.6 L167.4 5.6 L165.2 7.2 L163.2 2.2 L160.3 3 L159.3 -0.2 M162.5 -1.6 L165.8 0.6"/>
</g>
<text x="895.5" y="1596.1" font-size="24.6" textLength="51.9" lengthAdjust="spacingAndGlyphs">F + A</text>
</svg>
</body></html>
